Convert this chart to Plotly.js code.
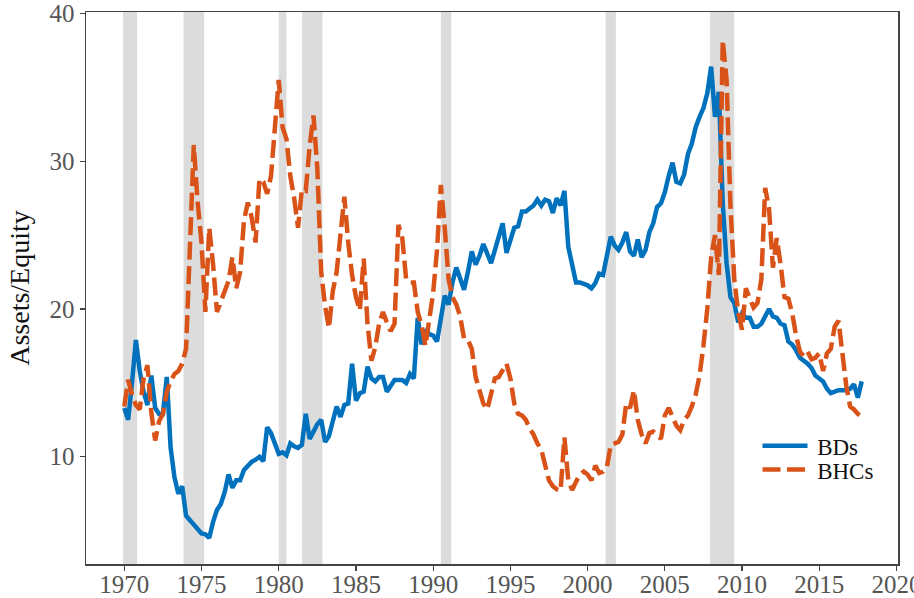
<!DOCTYPE html>
<html>
<head>
<meta charset="utf-8">
<script src="https://cdn.plot.ly/plotly-3.0.1.min.js"></script>
<style>html,body{margin:0;padding:0;background:#fff;}#chart{width:914px;height:598px;}</style>
</head>
<body>
<div id="chart"></div>
<script>
// Quarterly observations, 1970Q1 .. 2017Q4
const startYear = 1970;
const bds = [
  13.3, 12.5, 15.0, 17.9,
  15.8, 14.4, 13.5, 15.5,
  13.3, 12.9, 12.9, 15.4,
  10.6, 8.6, 7.5, 8.0,
  6.0, 5.7, 5.3, 5.0,
  4.8, 4.75, 4.5, 5.6,
  6.4, 6.8, 7.6, 8.8,
  7.9, 8.4, 8.4, 9.1,
  9.4, 9.65, 9.8, 10.0,
  9.7, 12.0, 11.6, 10.9,
  10.2, 10.3, 10.1, 10.9,
  10.7, 10.6, 10.8, 12.9,
  11.2, 11.7, 12.2, 12.5,
  11.0, 11.4, 12.4, 13.4,
  12.7, 13.5, 13.6, 16.3,
  13.8, 14.3, 14.4, 16.1,
  15.3, 15.1, 15.4, 15.4,
  14.4, 14.8, 15.2, 15.2,
  15.2, 15.0, 15.6, 15.3,
  19.4, 17.6, 18.6, 18.3,
  18.2, 17.8, 19.5, 20.9,
  20.3, 21.8, 22.8, 22.0,
  21.3, 22.5, 23.9, 23.0,
  23.6, 24.4, 23.8, 23.1,
  24.0, 24.9, 25.8, 23.8,
  24.6, 25.5, 25.6, 26.6,
  26.6, 26.8, 27.0, 27.4,
  27.0, 27.4, 27.3, 26.5,
  27.5, 27.0, 28.0, 24.2,
  22.9, 21.8, 21.8, 21.7,
  21.6, 21.4, 21.75, 22.4,
  22.3, 23.6, 24.9, 24.3,
  24.0, 24.5, 25.2, 23.9,
  23.6, 24.7, 23.5, 24.0,
  25.2, 25.8, 26.9, 27.15,
  27.9, 29.0, 29.9, 28.6,
  28.5, 29.1, 30.5, 31.2,
  32.3, 33.0, 33.6, 34.6,
  36.4, 33.0, 34.7, 27.2,
  23.1, 20.8, 20.4, 19.1,
  19.7, 19.4, 19.4, 18.8,
  18.8, 19.0, 19.5, 20.0,
  19.5, 19.4, 19.0, 18.9,
  17.8, 17.6, 17.2, 16.7,
  16.5, 16.3, 16.0, 15.5,
  15.3, 15.1, 14.6, 14.3,
  14.4, 14.5, 14.5, 14.5,
  14.6, 14.9, 14.0, 15.1
];
const bhcs = [
  13.4, 15.2, 14.2, 13.5,
  13.2, 15.3, 16.2, 13.0,
  11.1, 12.4, 12.9, 14.4,
  15.1, 15.6, 15.8, 16.3,
  17.3, 23.8, 31.1, 27.2,
  24.5, 19.8, 25.5, 23.0,
  19.8, 20.5, 21.3, 21.9,
  23.5, 21.4, 22.5, 26.0,
  27.2, 26.2, 24.5, 28.8,
  28.6, 27.8, 29.0, 32.4,
  35.5, 32.3, 31.5, 29.0,
  27.5, 25.5, 28.1, 28.0,
  31.0, 33.1, 29.5, 22.5,
  20.2, 18.7, 21.2, 22.5,
  25.0, 27.6, 24.5, 22.3,
  20.8, 19.9, 23.4, 19.0,
  16.5, 17.4, 19.0, 19.8,
  19.1, 18.5, 19.0, 25.7,
  24.8, 22.0, 21.8, 21.8,
  19.8, 18.9, 17.5, 19.5,
  21.1, 24.0, 28.4, 25.5,
  22.0, 20.8, 20.3, 19.5,
  18.0, 17.9, 17.3, 15.4,
  14.5, 13.6, 13.2, 14.3,
  15.3, 15.4, 15.9, 16.3,
  15.3, 13.6, 12.9, 12.8,
  12.5, 11.9, 11.5, 10.9,
  10.5, 9.4, 8.4, 8.0,
  7.8, 7.7, 11.3, 8.4,
  7.75, 8.3, 8.8, 9.0,
  8.8, 8.4, 9.4, 8.9,
  9.0, 9.3, 10.8, 10.9,
  11.0, 11.5, 13.6, 13.3,
  14.5, 12.5, 11.5, 10.9,
  11.6, 11.7, 11.5, 11.2,
  12.8, 13.3, 12.6, 12.1,
  11.8, 12.5, 12.8, 13.4,
  14.2, 15.5, 17.5, 20.0,
  23.5, 25.0, 22.3, 38.2,
  35.5, 27.0, 22.0, 19.8,
  18.6, 21.4, 20.7, 20.1,
  20.4, 22.0, 28.2, 26.8,
  22.8, 24.8, 23.0, 20.8,
  20.7, 19.7, 18.2, 17.1,
  16.8, 17.1, 16.6, 16.7,
  17.0, 15.8, 17.0, 17.3,
  18.8, 19.2, 17.0, 14.8,
  13.4, 13.2, 12.9, 12.7
];
// NBER recessions (decimal years)
const recStart = [1969.92, 1973.83, 1980.0, 1981.5, 1990.5, 2001.17, 2007.92];
const recEnd   = [1970.83, 1975.17, 1980.5, 1982.83, 1991.17, 2001.83, 2009.5];
const xTicks = [1970, 1975, 1980, 1985, 1990, 1995, 2000, 2005, 2010, 2015, 2020];
const yTicks = [10, 20, 30, 40];
const seriesNames = ['BDs', 'BHCs'];

const dates = bds.map((_, i) => startYear + i / 4);

const shapes = recStart.map((s, i) => ({
  type: 'rect', xref: 'x', yref: 'paper', x0: s, x1: recEnd[i], y0: 0, y1: 1,
  fillcolor: '#dcdcdc', line: {width: 0}, layer: 'below'
}));

const serif = 'Liberation Serif, Times New Roman, serif';

const traces = [
  {x: dates, y: bds, name: '\u2009' + seriesNames[0], type: 'scatter', mode: 'lines',
   legend: 'legend',
   line: {color: '#0072BD', width: 4.5}},
  {x: dates, y: bhcs, name: '\u2009' + seriesNames[1], type: 'scatter', mode: 'lines',
   legend: 'legend2',
   line: {color: '#D95319', width: 4.5, dash: '18px,6.5px'}}
];

const axisCommon = {
  showgrid: false, zeroline: false, showline: true, mirror: true,
  linecolor: '#444', linewidth: 1.5, ticks: 'outside', ticklen: 5,
  tickwidth: 1.2, tickcolor: '#444',
  tickfont: {family: serif, size: 25, color: '#555'},
  ticklabeloverflow: 'allow'
};

const legendCommon = {
  xanchor: 'left', yanchor: 'middle', bgcolor: 'rgba(0,0,0,0)',
  font: {family: serif, size: 23, color: '#111'}, itemwidth: 45
};

const layout = {
  width: 914, height: 598,
  margin: {l: 86, r: 16, t: 12, b: 34},
  paper_bgcolor: '#fff', plot_bgcolor: '#fff',
  showlegend: true,
  legend: Object.assign({}, legendCommon, {x: 0.827, y: 0.214}),
  legend2: Object.assign({}, legendCommon, {x: 0.827, y: 0.171}),
  xaxis: Object.assign({}, axisCommon, {
    range: [1967.52, 2020.1], tickmode: 'array', tickvals: xTicks,
    ticktext: xTicks.map(String), ticklabelstandoff: -8
  }),
  yaxis: Object.assign({}, axisCommon, {
    range: [2.74, 40.1], tickmode: 'array', tickvals: yTicks,
    ticktext: yTicks.map(String),
    title: {text: 'Assets/Equity', font: {family: serif, size: 28, color: '#111'}, standoff: 11}
  }),
  shapes: shapes
};

Plotly.newPlot('chart', traces, layout, {displayModeBar: false, staticPlot: true});
</script>
</body>
</html>
